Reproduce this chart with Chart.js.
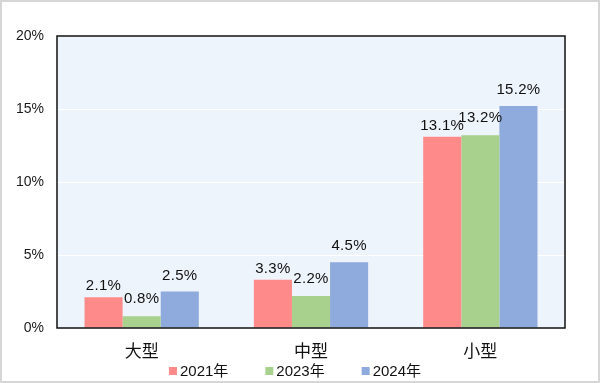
<!DOCTYPE html>
<html>
<head>
<meta charset="utf-8">
<script src="https://cdn.jsdelivr.net/npm/chart.js@4/dist/chart.umd.min.js"></script>
<style>
html,body{margin:0;padding:0;background:#fff;}
#wrap{width:600px;height:383px;position:relative;}
</style>
</head>
<body>
<div id="wrap"><canvas id="c" width="600" height="383"></canvas></div>
<script>
const categories = ['大型', '中型', '小型'];
const seriesNames = ['2021年', '2023年', '2024年'];
const values2021 = [2.1, 3.3, 13.1];
const values2023 = [0.8, 2.2, 13.2];
const values2024 = [2.5, 4.5, 15.2];
const yTicks = [0, 5, 10, 15, 20];
const colors = ['#FF8A8A', '#A9D18E', '#8FAADC'];
const labelGaps = [7, 13, 12];

const frame = {
  id: 'frame',
  beforeDraw(chart) {
    const ctx = chart.ctx, a = chart.chartArea;
    ctx.save();
    ctx.fillStyle = '#fff';
    ctx.fillRect(0, 0, chart.width, chart.height);
    ctx.strokeStyle = '#d6d6d6';
    ctx.lineWidth = 2;
    ctx.strokeRect(1, 1, chart.width - 2, chart.height - 2);
    ctx.fillStyle = '#EEF4FB';
    ctx.fillRect(a.left, a.top, a.right - a.left, a.bottom - a.top);
    ctx.restore();
  },
  afterDatasetsDraw(chart) {
    const ctx = chart.ctx, a = chart.chartArea;
    ctx.save();
    ctx.strokeStyle = '#111';
    ctx.lineWidth = 1.5;
    ctx.strokeRect(a.left, a.top, a.right - a.left, a.bottom - a.top);
    // data labels
    ctx.font = '15px "Liberation Sans", Arial, sans-serif';
    ctx.letterSpacing = '0.3px';
    ctx.fillStyle = '#111';
    ctx.textAlign = 'center';
    ctx.textBaseline = 'alphabetic';
    chart.data.datasets.forEach((ds, i) => {
      chart.getDatasetMeta(i).data.forEach((bar, j) => {
        const txt = ds.data[j].toFixed(1) + '%';
        ctx.fillText(txt, bar.x, bar.y - labelGaps[i]);
      });
    });
    ctx.letterSpacing = '0px';
    // legend
    ctx.font = '15px "Liberation Sans", "Noto Sans CJK SC", sans-serif';
    ctx.textAlign = 'left';
    ctx.textBaseline = 'middle';
    const box = 8, gapBox = 3, gapItem = 37;
    const items = chart.data.datasets.map(ds => ({ label: ds.label, color: ds.backgroundColor, w: box + gapBox + ctx.measureText(ds.label).width }));
    const total = items.reduce((s, it) => s + it.w, 0) + gapItem * (items.length - 1);
    let x = chart.width / 2 - 5 - total / 2;
    const y = a.bottom + 43;
    items.forEach(it => {
      ctx.fillStyle = it.color;
      ctx.fillRect(x, y - box / 2, box, box);
      ctx.fillStyle = '#111';
      ctx.fillText(it.label, x + box + gapBox, y + 1);
      x += it.w + gapItem;
    });
    ctx.restore();
  }
};

new Chart(document.getElementById('c'), {
  type: 'bar',
  data: {
    labels: categories,
    datasets: [
      { label: seriesNames[0], data: values2021, backgroundColor: colors[0] },
      { label: seriesNames[1], data: values2023, backgroundColor: colors[1] },
      { label: seriesNames[2], data: values2024, backgroundColor: colors[2] }
    ]
  },
  options: {
    responsive: false,
    animation: false,
    devicePixelRatio: 1,
    layout: { padding: { left: 8, right: 35, top: 36, bottom: 23 } },
    datasets: { bar: { categoryPercentage: 0.675, barPercentage: 1 } },
    scales: {
      x: {
        grid: { display: false },
        border: { display: false },
        ticks: { color: '#111', font: { family: '"Noto Sans CJK SC"', size: 17 }, padding: 4 },
        afterFit(s) { s.height = 32; }
      },
      y: {
        min: 0, max: 20,
        afterBuildTicks(s) { s.ticks = yTicks.map(v => ({ value: v })); },
        grid: { color: '#ffffff', lineWidth: 1, drawTicks: false },
        border: { display: false },
        ticks: {
          color: '#1a1a1a',
          font: { family: '"Liberation Sans", Arial', size: 14 },
          padding: 13,
          callback: v => v + '%'
        },
        afterFit(s) { s.width = 49; }
      }
    },
    plugins: {
      legend: { display: false },
      tooltip: { enabled: false }
    }
  },
  plugins: [frame]
});
</script>
</body>
</html>
